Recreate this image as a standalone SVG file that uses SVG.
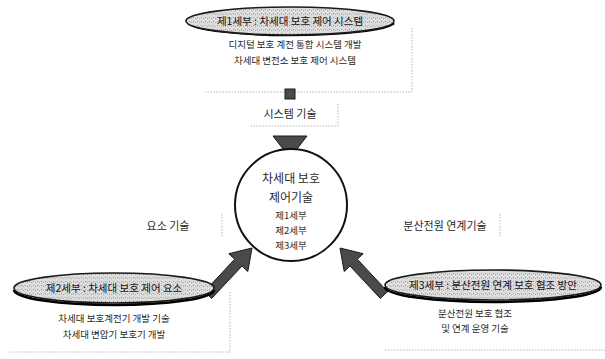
<svg xmlns="http://www.w3.org/2000/svg" width="605" height="359" viewBox="0 0 605 359">
<defs>
<style>
.t{font-family:"Noto Sans CJK KR","Noto Sans",sans-serif;fill:#2a2a2a}
.et{font-family:"Noto Sans CJK KR","Noto Sans",sans-serif;fill:#111;font-size:10.5px}
.el{stroke:#1a1a1a;stroke-width:1.6}
.sh{fill:none;stroke:#000;stroke-width:2.5}
.dot{fill:none;stroke:#b5b5b5;stroke-width:1;stroke-dasharray:1.5 1.5}
.arr{fill:#4a4a4a;stroke:#1a1a1a;stroke-width:1}
</style>
<pattern id="st" width="4" height="4" patternUnits="userSpaceOnUse">
<rect width="4" height="4" fill="#dcdcdc"/>
<rect x="1" y="1" width="1" height="1" fill="#999"/>
<rect x="3" y="2" width="1" height="1" fill="#aaa"/>
</pattern>
</defs>
<rect width="605" height="359" fill="#fff"/>
<g id="connectors">
<path class="dot" d="M412 28 V92 H205"/>
<path class="dot" d="M338 104 V126 H250"/>
<path class="dot" d="M222 214 V236"/>
<path class="dot" d="M500 214 V236"/>
<path class="dot" d="M230 292 V352 H10"/>
<path class="dot" d="M385 350 H605"/>
<rect x="285" y="89" width="10" height="10" class="arr"/>
<polygon class="arr" points="273,136 307,136 290,158"/>
<polygon class="arr" points="204.4,291.6 234.7,259.2 228.8,253.7 252,248 247.8,271.5 242,266 211.7,298.4"/>
<polygon class="arr" points="387.6,291.6 357.3,259.2 363.2,253.7 340,248 344.2,271.5 350,266 380.3,298.4"/>
</g>
<g id="top">
<path class="sh" d="M188 23 A104 14 0 0 0 394 23"/>
<ellipse class="el" cx="290" cy="21" rx="104" ry="14" style="fill:url(#st)"/>
<text class="et" x="290" y="25" text-anchor="middle">제1세부 : 차세대 보호 제어 시스템</text>
<text class="t" x="295" y="48" font-size="9.5" text-anchor="middle">디지털 보호 계전 통합 시스템 개발</text>
<text class="t" x="295" y="64" font-size="9.5" text-anchor="middle">차세대 변전소 보호 제어 시스템</text>
</g>
<g id="label-system">
<text class="t" x="290" y="118" font-size="11" text-anchor="middle">시스템 기술</text>
</g>
<g id="center">
<circle cx="291" cy="205" r="56" fill="#fff" stroke="#111" stroke-width="2"/>
<text class="t" x="291" y="183" font-size="12" text-anchor="middle">차세대 보호</text>
<text class="t" x="291" y="202" font-size="12" text-anchor="middle">제어기술</text>
<text class="t" x="291" y="219" font-size="9.5" text-anchor="middle">제1세부</text>
<text class="t" x="291" y="234" font-size="9.5" text-anchor="middle">제2세부</text>
<text class="t" x="291" y="249" font-size="9.5" text-anchor="middle">제3세부</text>
</g>
<g id="label-element">
<text class="t" x="168" y="230" font-size="11" text-anchor="middle">요소 기술</text>
</g>
<g id="label-dist">
<text class="t" x="445" y="230" font-size="11" text-anchor="middle">분산전원 연계기술</text>
</g>
<g id="left">
<path class="sh" d="M14 290 A100 15 0 0 0 214 290"/>
<ellipse class="el" cx="114" cy="288" rx="100" ry="15" style="fill:url(#st)"/>
<text class="et" x="114" y="292" text-anchor="middle">제2세부 : 차세대 보호 제어 요소</text>
<text class="t" x="114" y="322" font-size="9.5" text-anchor="middle">차세대 보호계전기 개발 기술</text>
<text class="t" x="114" y="338" font-size="9.5" text-anchor="middle">차세대 변압기 보호기 개발</text>
</g>
<g id="right">
<path class="sh" d="M385 287 A108 15 0 0 0 601 287"/>
<ellipse class="el" cx="493" cy="285" rx="108" ry="15" style="fill:url(#st)"/>
<text class="et" x="493" y="289" text-anchor="middle">제3세부 : 분산전원 연계 보호 협조 방안</text>
<text class="t" x="475" y="317" font-size="9.5" text-anchor="middle">분산전원 보호 협조</text>
<text class="t" x="475" y="332" font-size="9.5" text-anchor="middle">및 연계 운영 기술</text>
</g>
</svg>
